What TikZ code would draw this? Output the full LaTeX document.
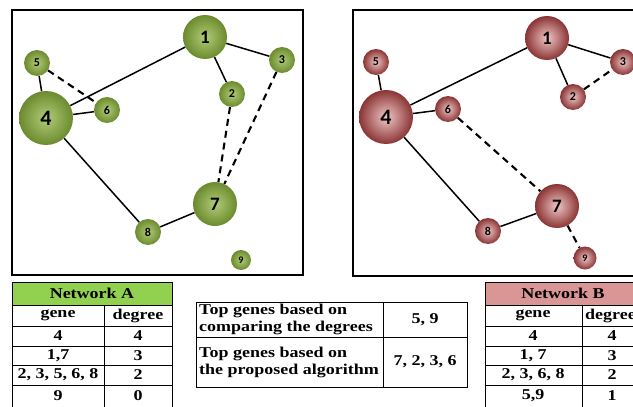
\documentclass[tikz,border=0pt]{standalone}
\usepackage{fontspec}
\setmainfont{Liberation Serif}[FakeStretch=1.2]
\newfontfamily\numfont{Carlito}
\usepackage{tikz}
\usetikzlibrary{positioning}
\definecolor{gin}{HTML}{B2CB78}
\definecolor{gout}{HTML}{6B8B2E}
\definecolor{rin}{HTML}{F0C6C6}
\definecolor{rout}{HTML}{8A3434}
\definecolor{ahead}{HTML}{92D050}
\definecolor{bhead}{HTML}{D99694}

\begin{document}
\begin{tikzpicture}[
    x=1pt, y=-1pt,
    gn/.style={circle, inner sep=0pt, shading=radial, inner color=gin, outer color=gout},
    rn/.style={circle, inner sep=0pt, shading=radial, inner color=rin, outer color=rout},
    hub/.style={minimum size=54pt, font=\numfont\bfseries\fontsize{22}{22}\selectfont},
    big/.style={minimum size=44pt, font=\numfont\bfseries\fontsize{19}{19}\selectfont},
    sm/.style={minimum size=26pt, font=\numfont\bfseries\fontsize{12}{12}\selectfont},
    tiny/.style={minimum size=20pt, font=\numfont\bfseries\fontsize{10}{10}\selectfont},
    ed/.style={-, line width=1.5pt},
    dsh/.style={-, line width=2.1pt, dash pattern=on 7pt off 5pt},
    frame/.style={line width=2.6pt},
    tab/.style={line width=0.9pt},
    tx/.style={font=\bfseries\fontsize{15}{17}\selectfont, inner sep=0pt}
  ]
    \useasboundingbox (0,0) rectangle (633,407);
    \clip (0,0) rectangle (633,407);
    \draw[frame] (12,10) rectangle (303,275);
    \draw[frame] (353,10) rectangle (660,276);

    \node[gn,big]  (g1) at (205,37)  {1};
    \node[gn,sm]   (g2) at (232,94)  {2};
    \node[gn,sm]   (g3) at (282,60)  {3};
    \node[gn,hub]  (g4) at (46,118)  {4};
    \node[gn,sm]   (g5) at (37,63)   {5};
    \node[gn,sm]   (g6) at (107,110) {6};
    \node[gn,big]  (g7) at (215,204) {7};
    \node[gn,sm]   (g8) at (148,232) {8};
    \node[gn,tiny] (g9) at (241,260) {9};
    \draw[ed] (g1)--(g4); \draw[ed] (g1)--(g3); \draw[ed] (g1)--(g2);
    \draw[ed] (g5)--(g4); \draw[ed] (g4)--(g6); \draw[ed] (g4)--(g8);
    \draw[ed] (g8)--(g7);
    \draw[dsh] (g5)--(g6); \draw[dsh] (g2)--(g7); \draw[dsh] (g3)--(g7);

    \node[rn,big]  (r1) at (547,38)  {1};
    \node[rn,sm]   (r2) at (573,97)  {2};
    \node[rn,sm]   (r3) at (623,62)  {3};
    \node[rn,hub]  (r4) at (386,117) {4};
    \node[rn,sm]   (r5) at (376,62)  {5};
    \node[rn,sm]   (r6) at (448,109) {6};
    \node[rn,big]  (r7) at (557,206) {7};
    \node[rn,sm]   (r8) at (488,231) {8};
    \node[rn,tiny,minimum size=23pt] (r9) at (585,258) {9};
    \draw[ed] (r1)--(r4); \draw[ed] (r1)--(r3); \draw[ed] (r1)--(r2);
    \draw[ed] (r5)--(r4); \draw[ed] (r4)--(r6); \draw[ed] (r4)--(r8);
    \draw[ed] (r8)--(r7);
    \draw[dsh] (r2)--(r3); \draw[dsh] (r6)--(r7); \draw[dsh] (r7)--(r9);

    % Network A table
    \fill[ahead] (12,282) rectangle (172,305);
    \draw[tab] (12,282) rectangle (172,420);
    \draw[tab] (12,305)--(172,305) (12,326)--(172,326) (12,346)--(172,346)
      (12,365)--(172,365) (12,385)--(172,385) (104,305)--(104,420);
    \node[tx] (aHead) at (92,293.5) {Network A};
    \node[tx] (aGene) at (58,315.5) {gene};
    \node[tx] (aDeg)  at (138,315.5) {degree};
    \node[tx] (aG1) at (58,336) {4};         \node[tx] (aD1) at (138,336) {4};
    \node[tx] (aG2) at (58,355.5) {1,7};     \node[tx] (aD2) at (138,355.5) {3};
    \node[tx] (aG3) at (58,375) {2, 3, 5, 6, 8}; \node[tx] (aD3) at (138,375) {2};
    \node[tx] (aG4) at (58,396) {9};         \node[tx] (aD4) at (138,396) {0};

    % comparison table
    \draw[tab] (196,302) rectangle (467,387);
    \draw[tab] (196,337)--(467,337) (383,302)--(383,387);
    \node[tx, anchor=west, align=left] (cTxt1) at (199,319.5)
      {Top genes based on\\comparing the degrees};
    \node[tx, anchor=west, align=left] (cTxt2) at (199,362)
      {Top genes based on\\the proposed\ algorithm};
    \node[tx] (cVal1) at (425,319.5) {5, 9};
    \node[tx] (cVal2) at (425,362) {7, 2, 3, 6};

    % Network B table
    \fill[bhead] (485,282) rectangle (680,305);
    \draw[tab] (485,282) rectangle (680,420);
    \draw[tab] (485,305)--(680,305) (485,326)--(680,326) (485,346)--(680,346)
      (485,365)--(680,365) (485,385)--(680,385) (582,305)--(582,420);
    \node[tx] (bHead) at (563,293.5) {Network B};
    \node[tx] (bGene) at (533,315.5) {gene};
    \node[tx, anchor=west] (bDeg) at (585,315.5) {degree};
    \node[tx] (bG1) at (533,336) {4};          \node[tx] (bD1) at (612,336) {4};
    \node[tx] (bG2) at (533,355.5) {1, 7};     \node[tx] (bD2) at (612,355.5) {3};
    \node[tx] (bG3) at (533,375) {2, 3, 6, 8}; \node[tx] (bD3) at (612,375) {2};
    \node[tx] (bG4) at (533,396) {5,9};        \node[tx] (bD4) at (612,396) {1};
  \end{tikzpicture}
\end{document}
